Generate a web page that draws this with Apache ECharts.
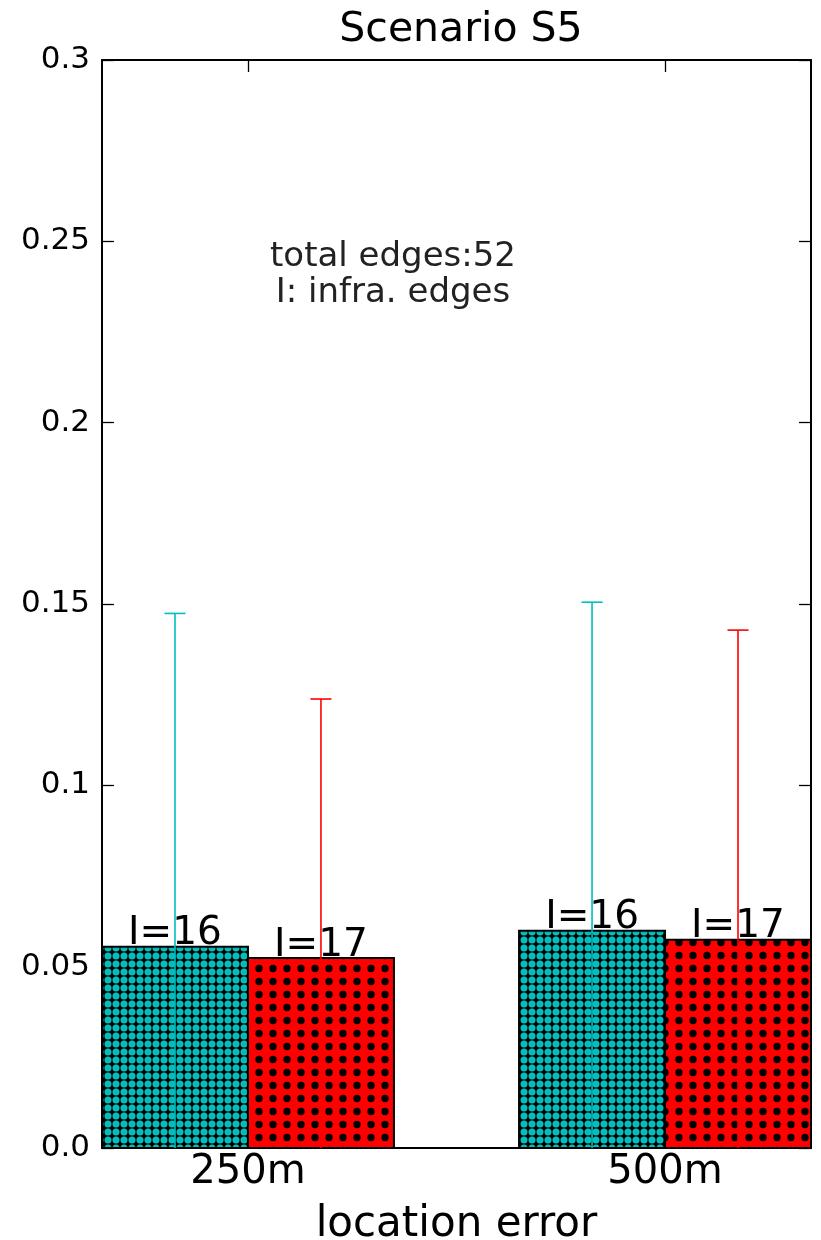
<!DOCTYPE html>
<html>
<head>
<meta charset="utf-8">
<script src="https://cdn.jsdelivr.net/npm/echarts@6/dist/echarts.min.js"></script>
<style>
  html, body { margin: 0; padding: 0; background: #fff; }
  #chart { width: 821px; height: 1240px; }
</style>
</head>
<body>
<div id="chart"></div>
<script>
// Location error categories and per-category results
const categories = ['250m', '500m'];
// mean fraction (cyan = first method, red = second method)
const meanCyan = [0.0555, 0.0599];
const meanRed  = [0.0524, 0.0574];
// error bar half-lengths
const errCyan = [0.0919, 0.0906];
const errRed  = [0.0714, 0.0854];
// infrastructure edge counts shown above bars
const infraCyan = [16, 16];
const infraRed  = [17, 17];
const yTickLabels = ['0.0', '0.05', '0.1', '0.15', '0.2', '0.25', '0.3'];

const BAR_W = 0.35;
const CYAN = '#00bfbf';
const RED = '#ff0000';
const FONT = 'DejaVu Sans';

// hatch fills
function crossHatch() {
  const c = document.createElement('canvas');
  c.width = 8; c.height = 8;
  const g = c.getContext('2d');
  g.fillStyle = '#000';
  g.fillRect(0, 0, 8, 8);
  g.fillStyle = CYAN;
  g.beginPath();
  g.arc(4, 4, 3.5, 0, Math.PI * 2);
  g.fill();
  return c;
}
function dotHatch() {
  const c = document.createElement('canvas');
  c.width = 14; c.height = 13;
  const g = c.getContext('2d');
  g.fillStyle = RED;
  g.fillRect(0, 0, 14, 13);
  g.fillStyle = '#000';
  g.beginPath();
  g.arc(7, 6.5, 3.7, 0, Math.PI * 2);
  g.fill();
  return c;
}
const cyanFill = { image: crossHatch(), repeat: 'repeat' };
const redFill = { image: dotHatch(), repeat: 'repeat' };

// [left x, mean, count, err]
const cyanData = categories.map((_, i) => [i, meanCyan[i], infraCyan[i], errCyan[i]]);
const redData = categories.map((_, i) => [i + BAR_W, meanRed[i], infraRed[i], errRed[i]]);

function barRenderer(fill) {
  return function (params, api) {
    const x0 = api.value(0), v = api.value(1);
    const p0 = api.coord([x0, v]);
    const p1 = api.coord([x0 + BAR_W, 0]);
    return {
      type: 'group',
      children: [
        {
          type: 'rect',
          shape: { x: p0[0], y: p0[1], width: p1[0] - p0[0], height: p1[1] - p0[1] },
          style: { fill: fill, stroke: '#000', lineWidth: 2 }
        },
        {
          type: 'text',
          style: {
            text: 'I=' + api.value(2),
            x: (p0[0] + p1[0]) / 2,
            y: p0[1] + 7,
            align: 'center',
            verticalAlign: 'bottom',
            fontSize: 39,
            fontFamily: FONT,
            fill: '#000'
          }
        }
      ]
    };
  };
}

function errRenderer(color) {
  return function (params, api) {
    const xc = api.value(0) + BAR_W / 2;
    const v = api.value(1), e = api.value(3);
    const top = api.coord([xc, v + e]);
    const bot = api.coord([xc, Math.max(0, v - e)]);
    return {
      type: 'group',
      children: [
        { type: 'line', shape: { x1: top[0], y1: top[1], x2: bot[0], y2: bot[1] },
          style: { stroke: color, lineWidth: 1.6 } },
        { type: 'line', shape: { x1: top[0] - 10.5, y1: top[1], x2: top[0] + 10.5, y2: top[1] },
          style: { stroke: color, lineWidth: 1.6 } }
      ]
    };
  };
}

const tickPos = categories.map((_, i) => i + BAR_W);
const axisLineStyle = { show: true, onZero: false, lineStyle: { color: '#000', width: 2 } };
const tickStyle = { show: true, inside: true, length: 12, lineStyle: { color: '#000', width: 1.3 } };

const chart = echarts.init(document.getElementById('chart'), null, { renderer: 'canvas' });
chart.setOption({
  animation: false,
  title: {
    text: 'Scenario S5',
    left: 456, top: 5, textAlign: 'center',
    textStyle: { fontFamily: FONT, fontSize: 41, fontWeight: 'normal', color: '#000' }
  },
  grid: { left: 102, right: 10, top: 60, bottom: 92, containLabel: false, outerBoundsMode: 'none' },
  xAxis: [
    {
      type: 'value', min: 0, max: 1.7, position: 'bottom',
      axisLine: axisLineStyle,
      axisTick: Object.assign({ customValues: tickPos }, tickStyle),
      axisLabel: {
        customValues: tickPos, margin: 5,
        fontFamily: FONT, fontSize: 40, color: '#000',
        formatter: v => categories[Math.round(v - BAR_W)]
      },
      splitLine: { show: false },
      name: 'location error', nameLocation: 'middle', nameGap: 56,
      nameTextStyle: { fontFamily: FONT, fontSize: 42, color: '#000' }
    },
    {
      type: 'value', min: 0, max: 1.7, position: 'top',
      axisLine: axisLineStyle,
      axisTick: Object.assign({ customValues: tickPos }, tickStyle),
      axisLabel: { show: false },
      splitLine: { show: false }
    }
  ],
  yAxis: [
    {
      type: 'value', min: 0, max: 0.3, interval: 0.05, position: 'left',
      axisLine: axisLineStyle,
      axisTick: tickStyle,
      axisLabel: {
        margin: 12, fontFamily: FONT, fontSize: 31, color: '#000',
        formatter: (v) => yTickLabels[Math.round(v / 0.05)]
      },
      splitLine: { show: false }
    },
    {
      type: 'value', min: 0, max: 0.3, interval: 0.05, position: 'right',
      axisLine: axisLineStyle,
      axisTick: tickStyle,
      axisLabel: { show: false },
      splitLine: { show: false }
    }
  ],
  graphic: [
    {
      type: 'text', x: 393, y: 275,
      style: {
        text: 'total edges:52\nI: infra. edges',
        align: 'center', verticalAlign: 'middle',
        fontFamily: FONT, fontSize: 34, lineHeight: 36, fill: '#222'
      }
    }
  ],
  series: [
    { type: 'custom', renderItem: barRenderer(cyanFill), data: cyanData, z: 2 },
    { type: 'custom', renderItem: barRenderer(redFill), data: redData, z: 2 },
    { type: 'custom', renderItem: errRenderer(CYAN), data: cyanData, z: 3 },
    { type: 'custom', renderItem: errRenderer(RED), data: redData, z: 3 }
  ]
});
</script>
</body>
</html>
